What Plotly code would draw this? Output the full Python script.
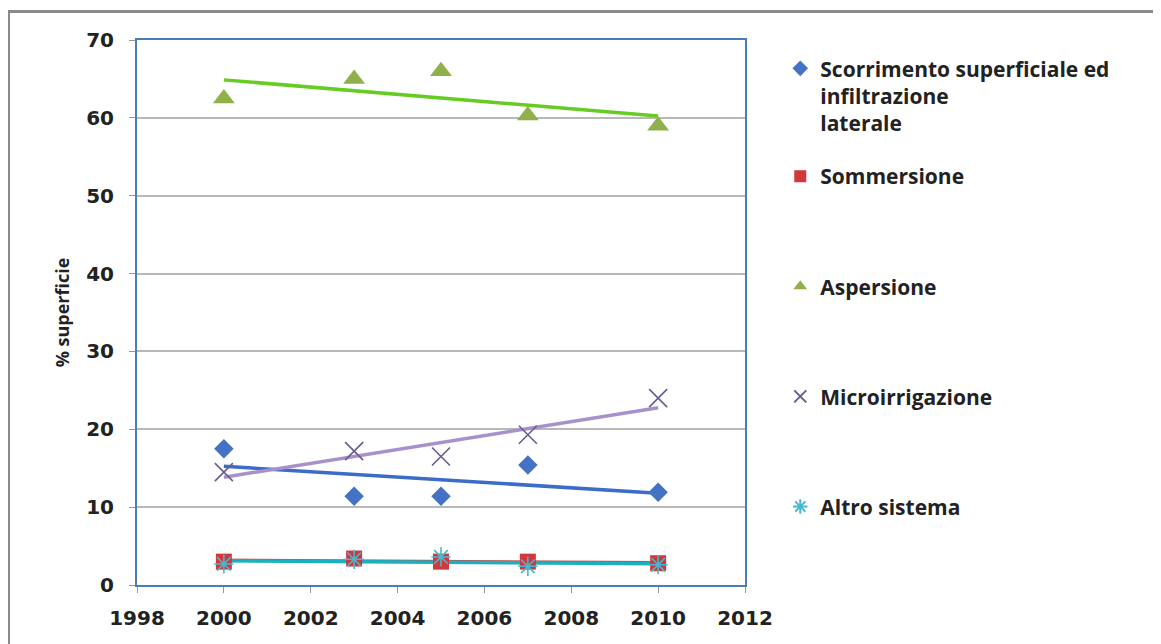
import numpy as np
import plotly.graph_objects as go

years = [2000, 2003, 2005, 2007, 2010]
scorrimento = [17.5, 11.4, 11.4, 15.4, 11.9]
sommersione = [3.0, 3.4, 3.0, 3.0, 2.8]
aspersione = [62.5, 65.0, 66.0, 60.3, 59.0]
microirrigazione = [14.5, 17.2, 16.5, 19.3, 24.0]
altro = [2.7, 3.3, 3.6, 2.4, 2.6]

names = ["Scorrimento superficiale ed<br>infiltrazione<br>laterale", "Sommersione",
         "Aspersione", "Microirrigazione", "Altro sistema"]
series = [scorrimento, sommersione, aspersione, microirrigazione, altro]
marker_colors = ["#4472c4", "#d0383b", "#8fb04a", "#6b5a8e", "#46b8cf"]
trend_colors = ["#3a6cc8", "#c0504d", "#66cc22", "#a890cc", "#1ab0c0"]
symbols = ["diamond", "square", "triangle-up", "x-thin-open", "asterisk-open"]
sizes = [15, 16, 19, 18, 16]
legend_tops = [0.985, 0.787, 0.585, 0.383, 0.181]
legend_ids = ["legend", "legend2", "legend3", "legend4", "legend5"]

font_family = "'Open Sans', Lato, sans-serif"
tick_family = "'DejaVu Sans', sans-serif"
txt_color = "#222222"

fig = go.Figure()

# trend lines (least squares fits of each series)
xs = np.array([min(years), max(years)])
order = [1, 4, 0, 3, 2]
for i in order:
    s = series[i]
    k, b = np.polyfit(years, s, 1)
    fig.add_trace(go.Scatter(x=xs, y=k * xs + b, mode="lines",
                             line=dict(color=trend_colors[i], width=3 if i == 1 else 3.5),
                             showlegend=False, hoverinfo="skip"))

for i in range(5):
    mk = dict(symbol=symbols[i], size=sizes[i], color=marker_colors[i])
    if symbols[i].endswith("open"):
        mk["line"] = dict(color=marker_colors[i], width=1.6)
    fig.add_trace(go.Scatter(x=years, y=series[i], mode="markers", name=names[i],
                             marker=mk, legend=legend_ids[i]))

leg_common = dict(x=1.058, xanchor="left", yanchor="top", bgcolor="rgba(0,0,0,0)",
                  font=dict(family=font_family, size=21, color=txt_color, weight="bold"),
                  itemsizing="constant", valign="top", itemwidth=30)
layout_legends = {}
for lid, top in zip(legend_ids, legend_tops):
    layout_legends[lid] = dict(leg_common, y=top)

tickfont = dict(size=20, family=tick_family, weight="bold", color=txt_color)

fig.update_layout(
    width=1153, height=636,
    margin=dict(l=129, r=416, t=32, b=59),
    paper_bgcolor="white", plot_bgcolor="white",
    font=dict(family=font_family, color=txt_color),
    xaxis=dict(range=[1998, 2012], dtick=2, tick0=1998, showgrid=False, zeroline=False,
               showline=True, linecolor="#4a7ebb", linewidth=2, mirror=True,
               ticks="outside", ticklen=6, tickcolor="#999999",
               ticklabelstandoff=8, tickfont=tickfont),
    yaxis=dict(range=[0, 70], dtick=10, showgrid=True, gridcolor="#b8b8b8", gridwidth=1.5,
               zeroline=False, showline=True, linecolor="#4a7ebb", linewidth=2, mirror=True,
               ticks="outside", ticklen=6, tickcolor="#999999",
               ticklabelstandoff=11, tickfont=tickfont,
               title=dict(text="% superficie", standoff=12,
                          font=dict(size=18, family=font_family, weight="bold", color=txt_color))),
    shapes=[dict(type="rect", xref="paper", yref="paper",
                 x0=(0.5 - 129) / 608, x1=(1170 - 129) / 608,
                 y0=(577 - 650) / 545, y1=(577 - 3.5) / 545,
                 line=dict(color="#8a8a8a", width=3), layer="below")],
    **layout_legends,
)

fig.write_html("out.html")
